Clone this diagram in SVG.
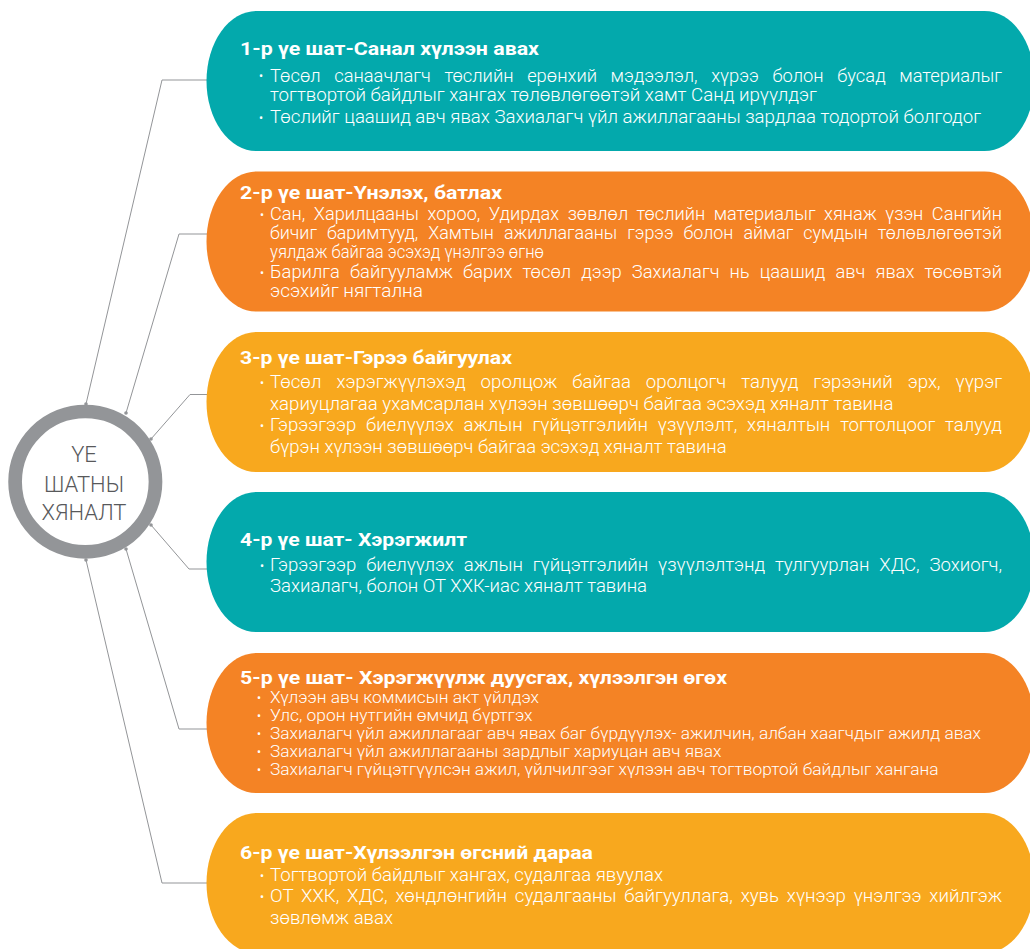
<svg xmlns="http://www.w3.org/2000/svg" width="1030" height="949" viewBox="0 0 1030 949">
<style>
.t{font-family:Roboto,"Noto Sans",sans-serif;font-weight:700;font-size:19px;fill:#fff}
.b{font-family:Roboto,"Noto Sans",sans-serif;font-weight:300;font-size:17.5px;fill:#fff}
.b5{font-size:16px}
.d{font-family:Roboto,"Noto Sans",sans-serif;font-size:12px;fill:#fff;text-anchor:middle}
.teal{fill:#03a9ac}.orange{fill:#f48325}.amber{fill:#f8a81e}
.ln{fill:none;stroke:#939598;stroke-width:1}
.dot{fill:#939598}
.ct{font-family:Roboto,"Noto Sans",sans-serif;font-weight:300;font-size:22px;fill:#58595b;text-anchor:middle}
</style>
<rect width="1030" height="949" fill="#fff"/>
<g id="connectors">
<polyline class="ln" points="86,404 162,80 207,80"/>
<polyline class="ln" points="126,413 179,234 207,234"/>
<polyline class="ln" points="151,439 190,394.5 207,394.5"/>
<polyline class="ln" points="151,525 189,569 207,569"/>
<polyline class="ln" points="126,549 179,729 207,729"/>
<polyline class="ln" points="86,560 162,883 207,883"/>
<circle class="dot" cx="86" cy="404" r="1.8"/>
<circle class="dot" cx="126" cy="413" r="1.8"/>
<circle class="dot" cx="151" cy="439" r="1.8"/>
<circle class="dot" cx="151" cy="525" r="1.8"/>
<circle class="dot" cx="126" cy="549" r="1.8"/>
<circle class="dot" cx="86" cy="560" r="1.8"/>
</g>
<g id="center">
<circle cx="85.3" cy="481.7" r="70.2" fill="#fff" stroke="#939598" stroke-width="13.7"/>
<text class="ct" x="84" y="462">ҮЕ</text>
<text class="ct" x="84" y="492">ШАТНЫ</text>
<text class="ct" x="84" y="520">ХЯНАЛТ</text>
</g>
<g id="stage1">
<rect class="teal" x="206.5" y="11" width="828" height="140" rx="50" ry="70"/>
<text class="t" x="240" y="55" textLength="299" lengthAdjust="spacingAndGlyphs">1-р үе шат-Санал хүлээн авах</text>
<text class="d" x="261" y="80">•</text>
<text class="b" x="270" y="81.5" word-spacing="8.7" textLength="732" lengthAdjust="spacingAndGlyphs">Төсөл санаачлагч төслийн ерөнхий мэдээлэл, хүрээ болон бусад материалыг</text>
<text class="b" x="270" y="101" textLength="547" lengthAdjust="spacingAndGlyphs">тогтвортой байдлыг хангах төлөвлөгөөтэй хамт Санд ирүүлдэг</text>
<text class="d" x="261" y="121.5">•</text>
<text class="b" x="270" y="123" textLength="711" lengthAdjust="spacingAndGlyphs">Төслийг цаашид авч явах Захиалагч үйл ажиллагааны зардлаа тодортой болгодог</text>
</g>
<g id="stage2">
<rect class="orange" x="206.5" y="171.5" width="828" height="140" rx="50" ry="70"/>
<text class="t" x="240" y="199" textLength="262" lengthAdjust="spacingAndGlyphs">2-р үе шат-Үнэлэх, батлах</text>
<text class="d" x="262" y="218.5">•</text>
<text class="b" x="270" y="220" word-spacing="3.9" textLength="732" lengthAdjust="spacingAndGlyphs">Сан, Харилцааны хороо, Удирдах зөвлөл төслийн материалыг хянаж үзэн Сангийн</text>
<text class="b" x="270" y="239" word-spacing="5.5" textLength="732" lengthAdjust="spacingAndGlyphs">бичиг баримтууд, Хамтын ажиллагааны гэрээ болон аймаг сумдын төлөвлөгөөтэй</text>
<text class="b" x="270" y="258" textLength="274" lengthAdjust="spacingAndGlyphs">уялдаж байгаа эсэхэд үнэлгээ өгнө</text>
<text class="d" x="262" y="276.5">•</text>
<text class="b" x="270" y="278" word-spacing="5.3" textLength="732" lengthAdjust="spacingAndGlyphs">Барилга байгууламж барих төсөл дээр Захиалагч нь цаашид авч явах төсөвтэй</text>
<text class="b" x="270" y="297" textLength="153" lengthAdjust="spacingAndGlyphs">эсэхийг нягтална</text>
</g>
<g id="stage3">
<rect class="amber" x="206.5" y="332" width="828" height="140" rx="50" ry="70"/>
<text class="t" x="240" y="364" textLength="272" lengthAdjust="spacingAndGlyphs">3-р үе шат-Гэрээ байгуулах</text>
<text class="d" x="262" y="386.5">•</text>
<text class="b" x="270" y="388" word-spacing="9.8" textLength="732" lengthAdjust="spacingAndGlyphs">Төсөл хэрэгжүүлэхэд оролцож байгаа оролцогч талууд гэрээний эрх, үүрэг</text>
<text class="b" x="270" y="409.5" textLength="623.5" lengthAdjust="spacingAndGlyphs">хариуцлагаа ухамсарлан хүлээн зөвшөөрч байгаа эсэхэд хяналт тавина</text>
<text class="d" x="262" y="429.5">•</text>
<text class="b" x="270" y="431" word-spacing="5" textLength="732" lengthAdjust="spacingAndGlyphs">Гэрээгээр биелүүлэх ажлын гүйцэтгэлийн үзүүлэлт, хяналтын тогтолцоог талууд</text>
<text class="b" x="270" y="452.5" textLength="456.7" lengthAdjust="spacingAndGlyphs">бүрэн хүлээн зөвшөөрч байгаа эсэхэд хяналт тавина</text>
</g>
<g id="stage4">
<rect class="teal" x="206.5" y="492" width="828" height="140" rx="50" ry="70"/>
<text class="t" x="240" y="546" textLength="227" lengthAdjust="spacingAndGlyphs">4-р үе шат- Хэрэгжилт</text>
<text class="d" x="262" y="569.5">•</text>
<text class="b" x="270" y="571" word-spacing="5" textLength="732" lengthAdjust="spacingAndGlyphs">Гэрээгээр биелүүлэх ажлын гүйцэтгэлийн үзүүлэлтэнд тулгуурлан ХДС, Зохиогч,</text>
<text class="b" x="270" y="592" textLength="377" lengthAdjust="spacingAndGlyphs">Захиалагч, болон ОТ ХХК-иас хяналт тавина</text>
</g>
<g id="stage5">
<rect class="orange" x="206.5" y="653" width="828" height="140" rx="50" ry="70"/>
<text class="t" x="240" y="684" textLength="487" lengthAdjust="spacingAndGlyphs">5-р үе шат- Хэрэгжүүлж дуусгах, хүлээлгэн өгөх</text>
<text class="d" x="259" y="701.5">•</text>
<text class="b b5" x="270" y="703" textLength="269" lengthAdjust="spacingAndGlyphs">Хүлээн авч коммисын акт үйлдэх</text>
<text class="d" x="259" y="719.5">•</text>
<text class="b b5" x="270" y="721" textLength="262.5" lengthAdjust="spacingAndGlyphs">Улс, орон нутгийн өмчид бүртгэх</text>
<text class="d" x="259" y="737.5">•</text>
<text class="b b5" x="270" y="739" textLength="711" lengthAdjust="spacingAndGlyphs">Захиалагч үйл ажиллагааг авч явах баг бүрдүүлэх- ажилчин, албан хаагчдыг ажилд авах</text>
<text class="d" x="259" y="755.5">•</text>
<text class="b b5" x="270" y="757" textLength="451.4" lengthAdjust="spacingAndGlyphs">Захиалагч үйл ажиллагааны зардлыг хариуцан авч явах</text>
<text class="d" x="259" y="773.5">•</text>
<text class="b b5" x="270" y="775" textLength="668.5" lengthAdjust="spacingAndGlyphs">Захиалагч гүйцэтгүүлсэн ажил, үйлчилгээг хүлээн авч тогтвортой байдлыг хангана</text>
</g>
<g id="stage6">
<rect class="amber" x="206.5" y="813" width="828" height="140" rx="50" ry="70"/>
<text class="t" x="240" y="858.5" textLength="353" lengthAdjust="spacingAndGlyphs">6-р үе шат-Хүлээлгэн өгсний дараа</text>
<text class="d" x="262" y="879.5">•</text>
<text class="b" x="270" y="881" textLength="393" lengthAdjust="spacingAndGlyphs">Тогтвортой байдлыг хангах, судалгаа явуулах</text>
<text class="d" x="262" y="900.5">•</text>
<text class="b" x="270" y="902" word-spacing="3" textLength="732" lengthAdjust="spacingAndGlyphs">ОТ ХХК, ХДС, хөндлөнгийн судалгааны байгууллага, хувь хүнээр үнэлгээ хийлгэж</text>
<text class="b" x="270" y="924" textLength="123" lengthAdjust="spacingAndGlyphs">зөвлөмж авах</text>
</g>
</svg>
